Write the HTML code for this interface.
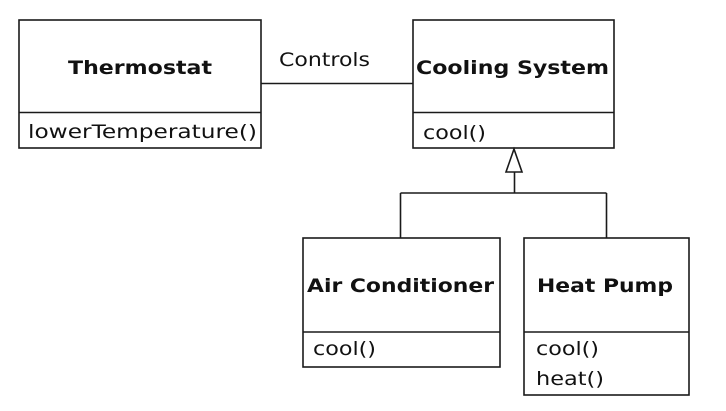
<!DOCTYPE html>
<html>
<head>
<meta charset="utf-8">
<style>
html,body{margin:0;padding:0;background:#fff;}
svg{display:block;}
text{font-family:"DejaVu Sans","Liberation Sans",sans-serif;fill:#111;}
.b{font-weight:bold;font-size:19px;}
.r{font-size:19px;}
</style>
</head>
<body>
<svg width="726" height="411" viewBox="0 0 726 411" xmlns="http://www.w3.org/2000/svg">
<g fill="none" stroke="#1a1a1a" stroke-width="1.6">
  <!-- Thermostat -->
  <rect x="19" y="20" width="242" height="128"/>
  <line x1="19" y1="112.5" x2="261" y2="112.5"/>
  <!-- Cooling System -->
  <rect x="413" y="20" width="201" height="128"/>
  <line x1="413" y1="112.5" x2="614" y2="112.5"/>
  <!-- Association -->
  <line x1="261" y1="83.5" x2="413" y2="83.5"/>
  <!-- Generalization -->
  <polygon points="514,149 506,172 522,172" fill="#fff"/>
  <line x1="514.5" y1="172" x2="514.5" y2="193"/>
  <line x1="400.5" y1="193" x2="606.5" y2="193"/>
  <line x1="400.5" y1="193" x2="400.5" y2="238"/>
  <line x1="606.5" y1="193" x2="606.5" y2="238"/>
  <!-- Air Conditioner -->
  <rect x="303" y="238" width="197" height="129"/>
  <line x1="303" y1="332" x2="500" y2="332"/>
  <!-- Heat Pump -->
  <rect x="524" y="238" width="165" height="157"/>
  <line x1="524" y1="332" x2="689" y2="332"/>
</g>
<text class="b" x="68" y="74" textLength="144" lengthAdjust="spacingAndGlyphs">Thermostat</text>
<text class="r" x="28" y="138" textLength="229" lengthAdjust="spacingAndGlyphs">lowerTemperature()</text>
<text class="r" x="279" y="66" textLength="91" lengthAdjust="spacingAndGlyphs">Controls</text>
<text class="b" x="416" y="74" textLength="193" lengthAdjust="spacingAndGlyphs">Cooling System</text>
<text class="r" x="423" y="139" textLength="63" lengthAdjust="spacingAndGlyphs">cool()</text>
<text class="b" x="307" y="292" textLength="187" lengthAdjust="spacingAndGlyphs">Air Conditioner</text>
<text class="r" x="313" y="355" textLength="63" lengthAdjust="spacingAndGlyphs">cool()</text>
<text class="b" x="537" y="292" textLength="136" lengthAdjust="spacingAndGlyphs">Heat Pump</text>
<text class="r" x="536" y="355" textLength="63" lengthAdjust="spacingAndGlyphs">cool()</text>
<text class="r" x="536" y="385" textLength="68" lengthAdjust="spacingAndGlyphs">heat()</text>
</svg>
</body>
</html>
